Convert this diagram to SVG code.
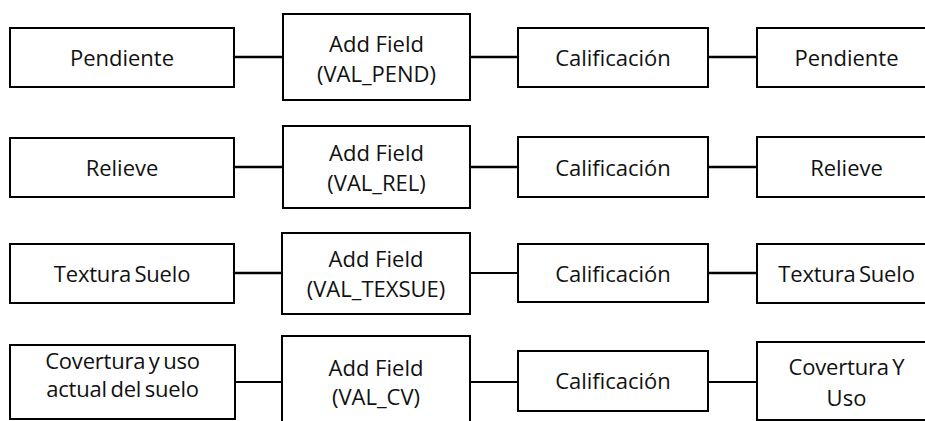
<svg xmlns="http://www.w3.org/2000/svg" width="925" height="421" viewBox="0 0 925 421">
  <style>
    .box { fill: #ffffff; stroke: #000000; stroke-width: 2; }
    .link { stroke: #000000; stroke-width: 2.6; fill: none; }
    .thin { stroke-width: 2; }
    text { font-family: "Open Sans", "Noto Sans", "Liberation Sans", sans-serif; font-size: 22px; fill: #111111; text-anchor: middle; }
    .tight { letter-spacing: -0.2px; word-spacing: -2px; }
  </style>
  <rect width="925" height="421" fill="#ffffff"/>

  <!-- connectors -->
  <g id="connectors">
    <line class="link" x1="234" y1="57" x2="283" y2="57"/>
    <line class="link" x1="470" y1="57" x2="518" y2="57"/>
    <line class="link" x1="708" y1="57" x2="757" y2="57"/>

    <line class="link" x1="234" y1="167" x2="283" y2="167"/>
    <line class="link" x1="470" y1="167" x2="518" y2="167"/>
    <line class="link" x1="708" y1="167" x2="757" y2="167"/>

    <line class="link" x1="234" y1="273" x2="282" y2="273"/>
    <line class="link thin" x1="470" y1="273" x2="518" y2="273"/>
    <line class="link" x1="708" y1="273" x2="757" y2="273"/>

    <line class="link thin" x1="235" y1="382" x2="282" y2="382"/>
    <line class="link thin" x1="470" y1="382" x2="518" y2="382"/>
    <line class="link thin" x1="708" y1="382" x2="757" y2="382"/>
  </g>

  <!-- row 1 -->
  <g id="pendiente-in">
    <rect class="box" x="10" y="28" width="224" height="59"/>
    <text x="122" y="65.5">Pendiente</text>
  </g>
  <g id="addfield-pend">
    <rect class="box" x="283" y="14" width="187" height="86"/>
    <text x="376.5" y="51.5">Add Field</text>
    <text x="376.5" y="81.5">(VAL_PEND)</text>
  </g>
  <g id="calif-pend">
    <rect class="box" x="518" y="28" width="190" height="59"/>
    <text x="613" y="65.5">Calificación</text>
  </g>
  <g id="pendiente-out">
    <rect class="box" x="757" y="28" width="180" height="59"/>
    <text x="846.5" y="65.5">Pendiente</text>
  </g>

  <!-- row 2 -->
  <g id="relieve-in">
    <rect class="box" x="10" y="138" width="224" height="59"/>
    <text x="122" y="175.5">Relieve</text>
  </g>
  <g id="addfield-rel">
    <rect class="box" x="283" y="126" width="187" height="82"/>
    <text x="376.5" y="161">Add Field</text>
    <text x="376.5" y="191">(VAL_REL)</text>
  </g>
  <g id="calif-rel">
    <rect class="box" x="518" y="137" width="190" height="60"/>
    <text x="613" y="175.5">Calificación</text>
  </g>
  <g id="relieve-out">
    <rect class="box" x="757" y="137" width="180" height="60"/>
    <text x="846.5" y="175.5">Relieve</text>
  </g>

  <!-- row 3 -->
  <g id="textura-in">
    <rect class="box" x="10" y="244" width="224" height="59"/>
    <text class="tight" x="122" y="281.5">Textura Suelo</text>
  </g>
  <g id="addfield-texsue">
    <rect class="box" x="282" y="233" width="188" height="81"/>
    <text x="376" y="267">Add Field</text>
    <text x="376" y="297">(VAL_TEXSUE)</text>
  </g>
  <g id="calif-texsue">
    <rect class="box" x="518" y="244" width="190" height="58"/>
    <text x="613" y="281.5">Calificación</text>
  </g>
  <g id="textura-out">
    <rect class="box" x="757" y="244" width="180" height="59"/>
    <text class="tight" x="846.5" y="281.5">Textura Suelo</text>
  </g>

  <!-- row 4 -->
  <g id="covertura-in">
    <rect class="box" x="10" y="345" width="225" height="74"/>
    <text class="tight" x="122.5" y="369">Covertura y uso</text>
    <text class="tight" x="122.5" y="397">actual del suelo</text>
  </g>
  <g id="addfield-cv">
    <rect class="box" x="282" y="336" width="188" height="95"/>
    <text x="376" y="376">Add Field</text>
    <text x="376" y="405">(VAL_CV)</text>
  </g>
  <g id="calif-cv">
    <rect class="box" x="518" y="351" width="190" height="60"/>
    <text x="613" y="389">Calificación</text>
  </g>
  <g id="covertura-out">
    <rect class="box" x="757" y="342" width="180" height="78"/>
    <text class="tight" x="846.5" y="375">Covertura Y</text>
    <text x="846.5" y="406">Uso</text>
  </g>
</svg>
